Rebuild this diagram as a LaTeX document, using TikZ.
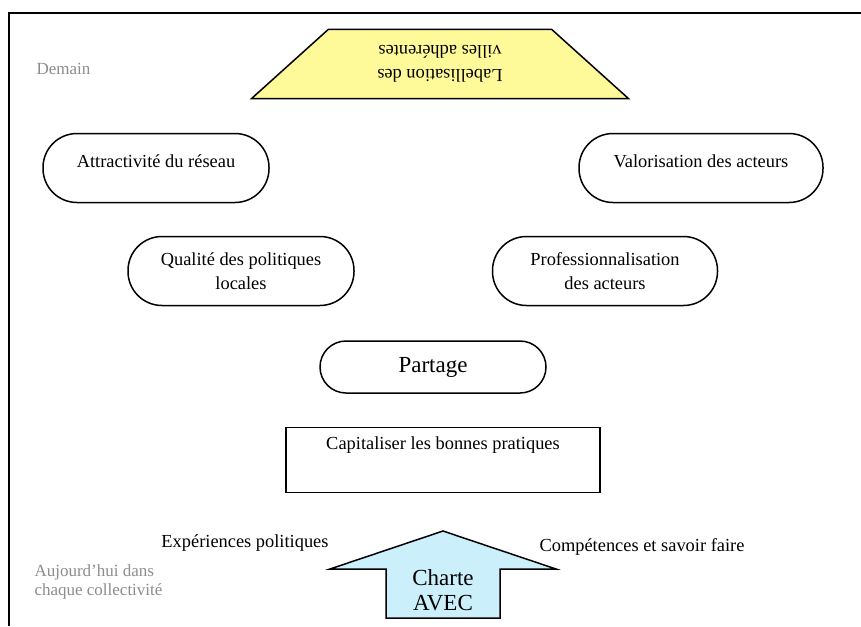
\documentclass[tikz,border=0pt]{standalone}
\usepackage{fontspec}
\setmainfont{Liberation Serif}
\usetikzlibrary{shapes.geometric, positioning}

\begin{document}
\begin{tikzpicture}[x=1pt, y=-1pt, font=\fontsize{18.4}{24}\selectfont]
        \tikzstyle{pill} = [rectangle, rounded corners=34pt, draw, line width=1.5pt, minimum width=226pt, minimum height=69pt, align=center]
        \tikzstyle{block} = [rectangle, draw, line width=1.5pt, align=center]
        \tikzstyle{note} = [text=black!45, align=left, anchor=west, font=\fontsize{17}{19}\selectfont]
        \useasboundingbox (0,0) rectangle (861,626);
        \draw [line width=2.5pt] (861,13) -- (9,13) -- (9,626);

        \node (lab) at (440,64) [trapezium, trapezium stretches=true, trapezium angle=44, minimum width=378pt, minimum height=69pt, draw, line width=1.5pt, fill=yellow!40, rotate=180, shape border rotate=180, align=center] {Labellisation des\\villes adhérentes};
        \node (dem) at (33,69) [note] {Demain};

        \node (att) at (156,168) [pill, text depth=14pt] {Attractivité du réseau};
        \node (val) at (701,168) [pill, minimum width=244pt, text depth=14pt] {Valorisation des acteurs};
        \node (qua) at (241,271) [pill] {Qualité des politiques\\locales};
        \node (pro) at (605,271) [pill, minimum width=225pt] {Professionnalisation\\des acteurs};
        \node (par) at (433,367) [pill, minimum height=52pt, rounded corners=26pt, font=\fontsize{23}{26}\selectfont] {Partage};
        \node (cap) at (443,460) [block, minimum width=314pt, minimum height=65pt, text depth=34pt] {Capitaliser les bonnes pratiques};

        \node (exp) at (245,543) {Expériences politiques};
        \node (com) at (642,547) {Compétences et savoir faire};
        \node (auj) at (31,582) [note] {Aujourd’hui dans\\chaque collectivité};

        \draw [line width=1.5pt, fill=cyan!20] (330,569) -- (443,531) -- (556,569) -- (500,569) -- (500,618) -- (386,618) -- (386,569) -- cycle;
        \node (cha) at (443,590) [align=center, font=\fontsize{23}{25}\selectfont] {Charte\\AVEC};
\end{tikzpicture}
\end{document}
